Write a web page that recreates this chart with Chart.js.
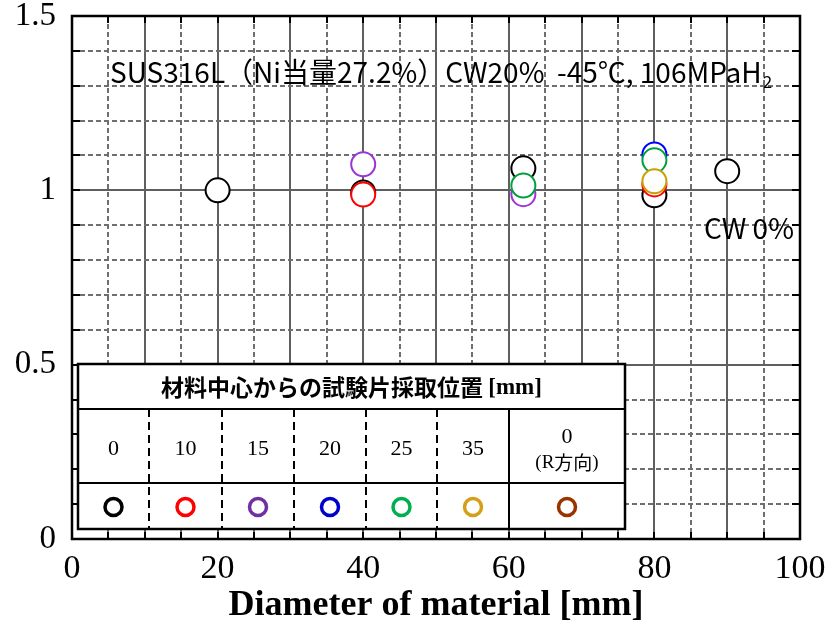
<!DOCTYPE html>
<html>
<head>
<meta charset="utf-8">
<script src="https://cdn.jsdelivr.net/npm/chart.js@4.4.1/dist/chart.umd.min.js"></script>
<style>
  html, body { margin: 0; padding: 0; background: #fff; }
  #wrap { width: 828px; height: 627px; }
</style>
</head>
<body>
<div id="wrap"><canvas id="chart" width="828" height="627"></canvas></div>
<script>
// sampling position (mm from centre) -> legend labels
const positionLabels = ["0", "10", "15", "20", "25", "35"];
const pointColors = ["#000000", "#ff0000", "#9b35d6", "#0000ff", "#00a040", "#c8a000"];
const legendColors = ["#000000", "#ff0000", "#7030a0", "#0000cc", "#00b050", "#d4a017", "#993300"];

// diameter of material [mm] and ratio for each position
const pos0X = [20, 40, 62, 80, 90];
const pos0Y = [1.000, 0.994, 1.063, 0.986, 1.055];
const pos10X = [40, 80];
const pos10Y = [0.988, 1.017];
const pos15X = [40, 62];
const pos15Y = [1.075, 0.989];
const pos20X = [80];
const pos20Y = [1.103];
const pos25X = [62, 80];
const pos25Y = [1.014, 1.086];
const pos35X = [80];
const pos35Y = [1.026];

const xTicks = [0, 20, 40, 60, 80, 100];
const yTicks = [0, 0.5, 1, 1.5];

const seriesX = [pos0X, pos10X, pos15X, pos20X, pos25X, pos35X];
const seriesY = [pos0Y, pos10Y, pos15Y, pos20Y, pos25Y, pos35Y];

// later positions sit on top of earlier ones
const datasets = seriesX.map((xs, i) => ({
    label: positionLabels[i],
    data: xs.map((x, j) => ({x: x, y: seriesY[i][j]})),
    order: seriesX.length - i,
    pointRadius: 12,
    pointHoverRadius: 12,
    pointBorderWidth: 2,
    borderColor: pointColors[i],
    backgroundColor: "#ffffff",
    showLine: false
}));

const serif = "'Liberation Serif', 'DejaVu Serif', serif";
const jp = "'Noto Sans CJK JP', 'Noto Sans', sans-serif";

// grid, inside ticks and frame
const gridPlugin = {
    id: "grid",
    beforeDatasetsDraw(chart) {
        const {ctx, chartArea: a, scales: {x, y}} = chart;
        ctx.save();
        for (let v = 5; v < 100; v += 5) {
            const px = Math.round(x.getPixelForValue(v));
            ctx.beginPath();
            if (v % 10 === 0) { ctx.setLineDash([]); ctx.strokeStyle = "#5f5f5f"; }
            else { ctx.setLineDash([5, 3]); ctx.strokeStyle = "#6f6f6f"; }
            ctx.lineWidth = 2;
            ctx.moveTo(px, a.top); ctx.lineTo(px, a.bottom);
            ctx.stroke();
        }
        for (let k = 1; k < 15; k++) {
            const py = Math.round(y.getPixelForValue(k / 10));
            ctx.beginPath();
            if (k % 5 === 0) { ctx.setLineDash([]); ctx.strokeStyle = "#5f5f5f"; }
            else { ctx.setLineDash([5, 3]); ctx.strokeStyle = "#6f6f6f"; }
            ctx.lineWidth = 2;
            ctx.moveTo(a.left, py); ctx.lineTo(a.right, py);
            ctx.stroke();
        }
        ctx.setLineDash([]);
        ctx.strokeStyle = "#000";
        ctx.lineWidth = 2;
        for (let v = 5; v < 100; v += 5) {
            const px = Math.round(x.getPixelForValue(v));
            ctx.beginPath();
            ctx.moveTo(px, a.bottom); ctx.lineTo(px, a.bottom - 7);
            ctx.moveTo(px, a.top); ctx.lineTo(px, a.top + 7);
            ctx.stroke();
        }
        for (let k = 1; k < 15; k++) {
            const py = Math.round(y.getPixelForValue(k / 10));
            ctx.beginPath();
            ctx.moveTo(a.left, py); ctx.lineTo(a.left + 8, py);
            ctx.moveTo(a.right, py); ctx.lineTo(a.right - 8, py);
            ctx.stroke();
        }
        ctx.lineWidth = 2.5;
        ctx.strokeRect(a.left, a.top, a.right - a.left, a.bottom - a.top);
        ctx.restore();
    }
};

// the in-plot texts and the table legend
const notePlugin = {
    id: "notes",
    afterDraw(chart) {
        const ctx = chart.ctx;
        ctx.save();
        ctx.fillStyle = "#000";
        ctx.textBaseline = "middle";
        ctx.textAlign = "left";
        ctx.font = "28px " + jp;
        const t = "SUS316L（Ni当量27.2%）CW20%  -45℃, 106MPaH";
        ctx.fillText(t, 110, 72);
        const w = ctx.measureText(t).width;
        ctx.font = "17px " + jp;
        ctx.fillText("2", 110 + w + 1, 82);
        ctx.font = "28px " + jp;
        ctx.fillText("CW 0%", 704, 228);

        // table
        const L = 78, R = 625, T = 364, B = 529, r1 = 409, r2 = 483;
        const cols = [78, 149, 222, 294, 366, 437, 509, 625];
        ctx.fillStyle = "#fff";
        ctx.fillRect(L, T, R - L, B - T);
        ctx.strokeStyle = "#000";
        ctx.lineWidth = 2;
        ctx.beginPath();
        ctx.moveTo(L, r1); ctx.lineTo(R, r1);
        ctx.moveTo(L, r2); ctx.lineTo(R, r2);
        ctx.moveTo(cols[6], r1); ctx.lineTo(cols[6], B);
        ctx.stroke();
        ctx.setLineDash([8, 5]);
        ctx.beginPath();
        for (let i = 1; i < 6; i++) {
            ctx.moveTo(cols[i], r1); ctx.lineTo(cols[i], B);
        }
        ctx.stroke();
        ctx.setLineDash([]);
        ctx.lineWidth = 2.5;
        ctx.strokeRect(L, T, R - L, B - T);

        ctx.fillStyle = "#000";
        ctx.textAlign = "left";
        const head = "材料中心からの試験片採取位置 ";
        ctx.font = "bold 23px " + jp;
        const hw = ctx.measureText(head).width;
        ctx.font = "bold 23px " + serif;
        const mw = ctx.measureText("[mm]").width;
        const hx = (L + R) / 2 - (hw + mw) / 2;
        ctx.font = "bold 23px " + jp;
        ctx.fillText(head, hx, 387);
        ctx.font = "bold 23px " + serif;
        ctx.fillText("[mm]", hx + hw, 388);

        ctx.textAlign = "center";
        const labels = positionLabels.concat(["0"]);
        for (let i = 0; i < 7; i++) {
            const cx = (cols[i] + cols[i + 1]) / 2;
            ctx.font = "22px " + serif;
            if (i < 6) {
                ctx.fillText(labels[i], cx, 449);
            } else {
                ctx.fillText(labels[i], cx, 437);
                ctx.font = "19px " + serif;
                const p1 = "(R", p2 = "方向", p3 = ")";
                ctx.textAlign = "left";
                const w1 = ctx.measureText(p1).width, w3 = ctx.measureText(p3).width;
                ctx.font = "19px " + jp;
                const w2 = ctx.measureText(p2).width;
                const sx = cx - (w1 + w2 + w3) / 2;
                ctx.font = "19px " + serif;
                ctx.fillText(p1, sx, 463);
                ctx.font = "19px " + jp;
                ctx.fillText(p2, sx + w1, 463);
                ctx.font = "19px " + serif;
                ctx.fillText(p3, sx + w1 + w2, 463);
                ctx.textAlign = "center";
            }
            ctx.beginPath();
            ctx.lineWidth = 3.5;
            ctx.strokeStyle = legendColors[i];
            ctx.arc(cx, 507, 8.5, 0, Math.PI * 2);
            ctx.stroke();
        }
        ctx.restore();
    }
};

new Chart(document.getElementById("chart").getContext("2d"), {
    type: "scatter",
    data: {datasets: datasets},
    options: {
        responsive: false,
        animation: false,
        events: [],
        layout: {padding: {top: 16, right: 28, left: 0, bottom: 0}},
        plugins: {legend: {display: false}, tooltip: {enabled: false}},
        scales: {
            x: {
                type: "linear",
                min: 0,
                max: 100,
                afterFit(s) {
                    s.height = 88;
                    s.paddingLeft = 0; s.paddingRight = 0;
                },
                afterBuildTicks(s) { s.ticks = xTicks.map(v => ({value: v})); },
                grid: {display: false, drawTicks: false},
                border: {display: false},
                ticks: {
                    padding: 10,
                    color: "#000",
                    font: {family: serif, size: 34},
                },
                title: {
                    display: true,
                    text: "Diameter of material [mm]",
                    color: "#000",
                    font: {family: serif, size: 36, weight: "bold"},
                    padding: {top: 0, bottom: 0}
                }
            },
            y: {
                type: "linear",
                min: 0,
                max: 1.5,
                afterFit(s) {
                    s.width = 72;
                    s.paddingTop = 0; s.paddingBottom = 0;
                },
                afterBuildTicks(s) { s.ticks = yTicks.map(v => ({value: v})); },
                grid: {display: false, drawTicks: false},
                border: {display: false},
                ticks: {
                    padding: 16,
                    color: "#000",
                    font: {family: serif, size: 33},
                    callback: v => String(v)
                }
            }
        }
    },
    plugins: [gridPlugin, notePlugin]
});
</script>
</body>
</html>
